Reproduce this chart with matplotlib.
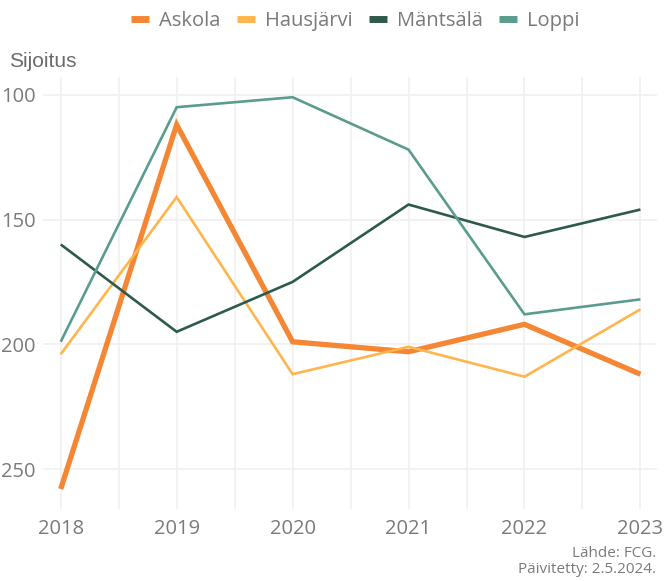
import matplotlib
matplotlib.use("Agg")
import matplotlib.pyplot as plt
from matplotlib.lines import Line2D

years = [2018, 2019, 2020, 2021, 2022, 2023]
askola = [258, 112, 199, 203, 192, 212]
hausjarvi = [204, 141, 212, 201, 213, 186]
mantsala = [160, 195, 175, 144, 157, 146]
loppi = [199, 105, 101, 122, 188, 182]

names = ["Askola", "Hausjärvi", "Mäntsälä", "Loppi"]
colors = ["#F58634", "#FFB54D", "#2E5A4D", "#5A9C8E"]
widths = [3.8, 1.9, 1.9, 1.9]
series = [askola, hausjarvi, mantsala, loppi]

plt.rcParams["font.family"] = ["Open Sans", "DejaVu Sans"]
grey = "#7a7a7a"

fig = plt.figure(figsize=(6.68, 5.81), dpi=100)
ax = fig.add_axes([0.064, 0.124, 0.919, 0.743])

for vals, c, w in zip(series, colors, widths):
    ax.plot(years, vals, color=c, lw=w, solid_capstyle="butt", solid_joinstyle="miter", zorder=3)

ax.set_xlim(2017.845, 2023.14)
ax.set_ylim(266, 93)
ax.set_yticks([100, 150, 200, 250])
ax.set_xticks(years)
ax.set_xticks([y + 0.5 for y in years[:-1]], minor=True)
ax.grid(True, which="major", color="#f0f0f0", lw=1.2, zorder=0)
ax.grid(True, which="minor", axis="x", color="#f0f0f0", lw=1.2, zorder=0)
for s in ax.spines.values():
    s.set_visible(False)
ax.tick_params(which="both", length=0, labelsize=14.5, labelcolor=grey, pad=5)
ax.tick_params(axis="x", pad=7)

fig.text(0.014, 0.895, "Sijoitus", fontsize=15, color="#6b6b6b", ha="left", va="center",
         family=["Liberation Sans", "DejaVu Sans"])

handles = [Line2D([0], [0], color=c, lw=5, solid_capstyle="butt") for c in colors]
leg = fig.legend(handles, names, loc="center", bbox_to_anchor=(0.532, 0.963), ncol=4,
                 frameon=False, fontsize=14.5, handlelength=0.9, handletextpad=0.5,
                 columnspacing=0.8)
for t in leg.get_texts():
    t.set_color(grey)

fig.text(0.982, 0.034, "Lähde: FCG.\nPäivitetty: 2.5.2024.", fontsize=11, color=grey,
         ha="right", va="center", linespacing=1.05)

fig.savefig("out.png", dpi=100)
